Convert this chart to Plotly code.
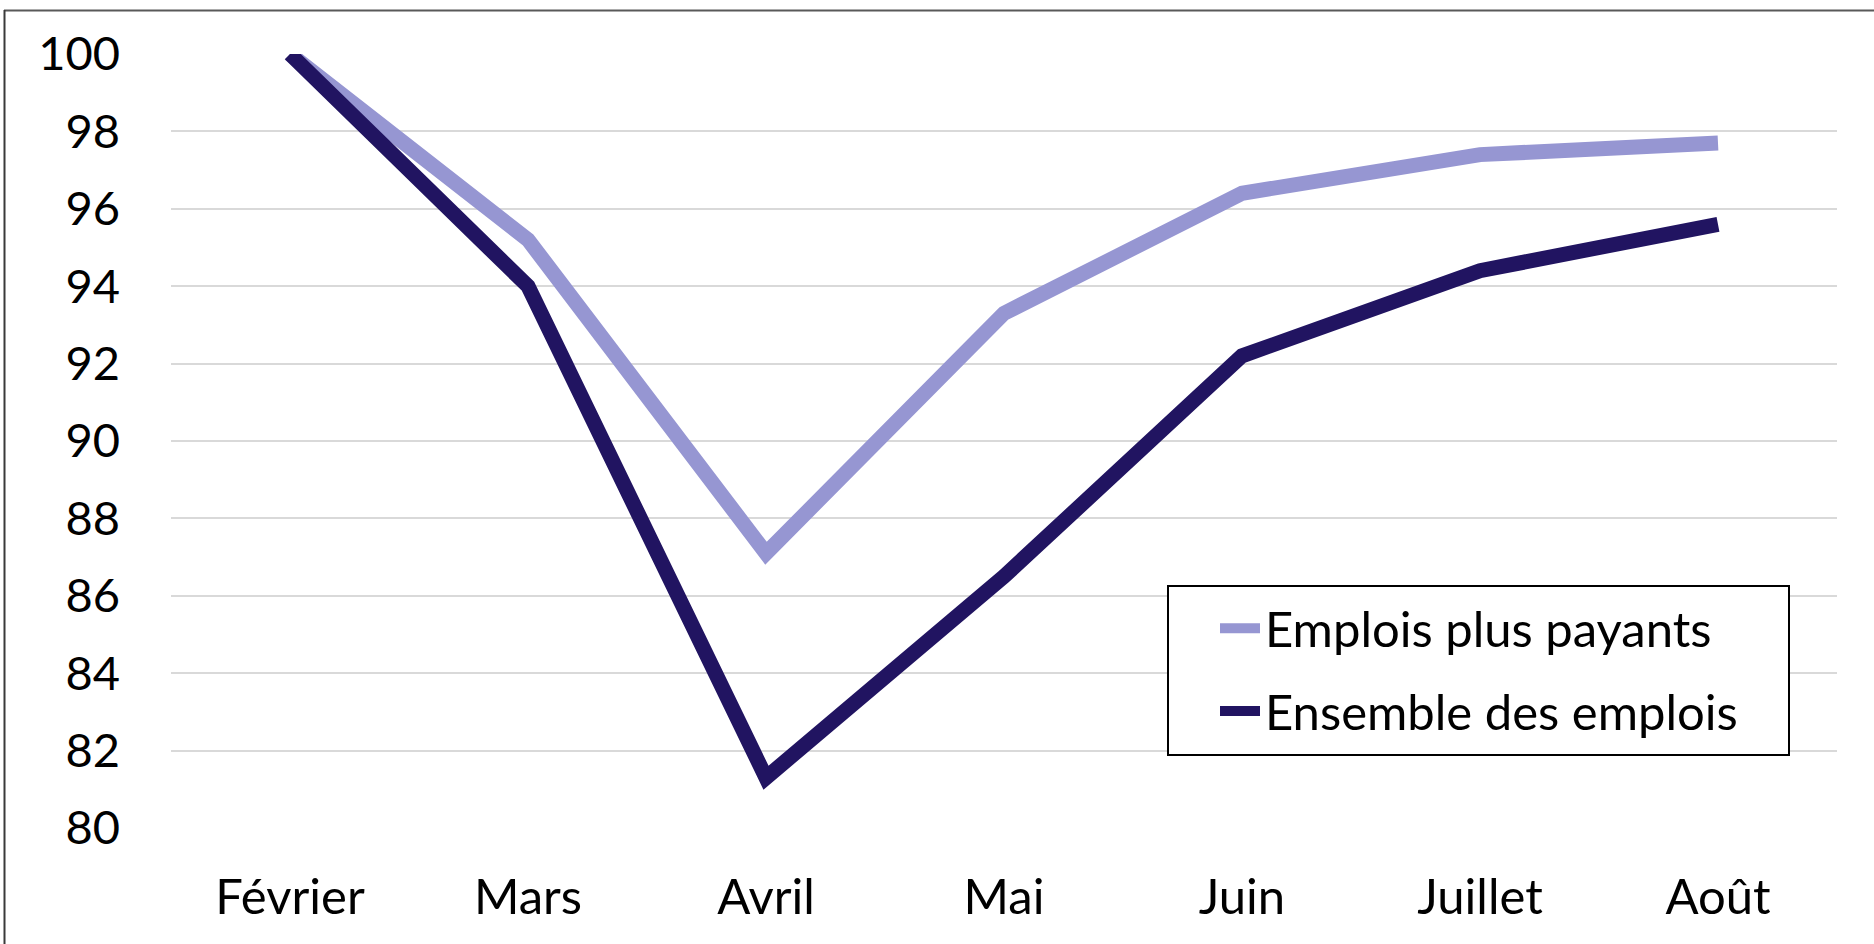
import plotly.graph_objects as go

months = ["Février", "Mars", "Avril", "Mai", "Juin", "Juillet", "Août"]
emplois_plus_payants = [100.0, 95.2, 87.1, 93.3, 96.4, 97.4, 97.7]
ensemble_des_emplois = [100.0, 94.0, 81.3, 86.5, 92.2, 94.4, 95.6]
y_ticks = [80, 82, 84, 86, 88, 90, 92, 94, 96, 98, 100]

W, H = 1874, 944
L, R, T, B = 171, 37, 54, 116
pw, ph = W - L - R, H - T - B

def px(x):
    return (x - L) / pw

def py(y):
    return (H - B - y) / ph

fig = go.Figure()
fig.add_trace(go.Scatter(x=months, y=emplois_plus_payants, mode="lines",
                         name="Emplois plus payants", legendgroup="a",
                         line=dict(color="#9696d2", width=15)))
fig.add_trace(go.Scatter(x=months, y=ensemble_des_emplois, mode="lines",
                         name="Ensemble des emplois", legendgroup="b",
                         line=dict(color="#211461", width=15)))

font_family = "Lato, 'Open Sans', sans-serif"

fig.update_layout(
    width=W, height=H,
    margin=dict(l=L, r=R, t=T, b=B, pad=0, autoexpand=False),
    paper_bgcolor="white", plot_bgcolor="white",
    font=dict(family=font_family, color="black", size=48),
    showlegend=True,
    legend=dict(
        x=px(1215), y=py(590), xanchor="left", yanchor="top",
        borderwidth=0, bgcolor="rgba(0,0,0,0)",
        font=dict(size=49, family=font_family, color="black"),
        tracegroupgap=16, itemwidth=40,
    ),
    xaxis=dict(
        type="category", range=[-0.5, 6.5], showgrid=False, zeroline=False,
        showline=False, ticks="", tickfont=dict(size=49),
        ticklabelstandoff=36, automargin=False,
    ),
    yaxis=dict(
        range=[80, 100], tickvals=y_ticks, showgrid=True,
        gridcolor="#d9d9d9", gridwidth=2, zeroline=False, showline=False,
        ticks="", tickfont=dict(size=47), ticklabelstandoff=50,
        automargin=False,
    ),
    shapes=[
        dict(type="rect", xref="paper", yref="paper",
             x0=px(1168), x1=px(1789), y0=py(586), y1=py(755),
             fillcolor="white", line=dict(color="black", width=2),
             layer="above"),
        dict(type="line", xref="paper", yref="paper",
             x0=px(4), x1=px(W + 10), y0=py(10.5), y1=py(10.5),
             line=dict(color="#595959", width=2)),
        dict(type="line", xref="paper", yref="paper",
             x0=px(4.5), x1=px(4.5), y0=py(10), y1=py(H + 10),
             line=dict(color="#3a3a3a", width=2)),
    ],
)

fig.write_html("out.html",
               config={"displayModeBar": False},
               post_script="document.body.style.margin='0px';")
